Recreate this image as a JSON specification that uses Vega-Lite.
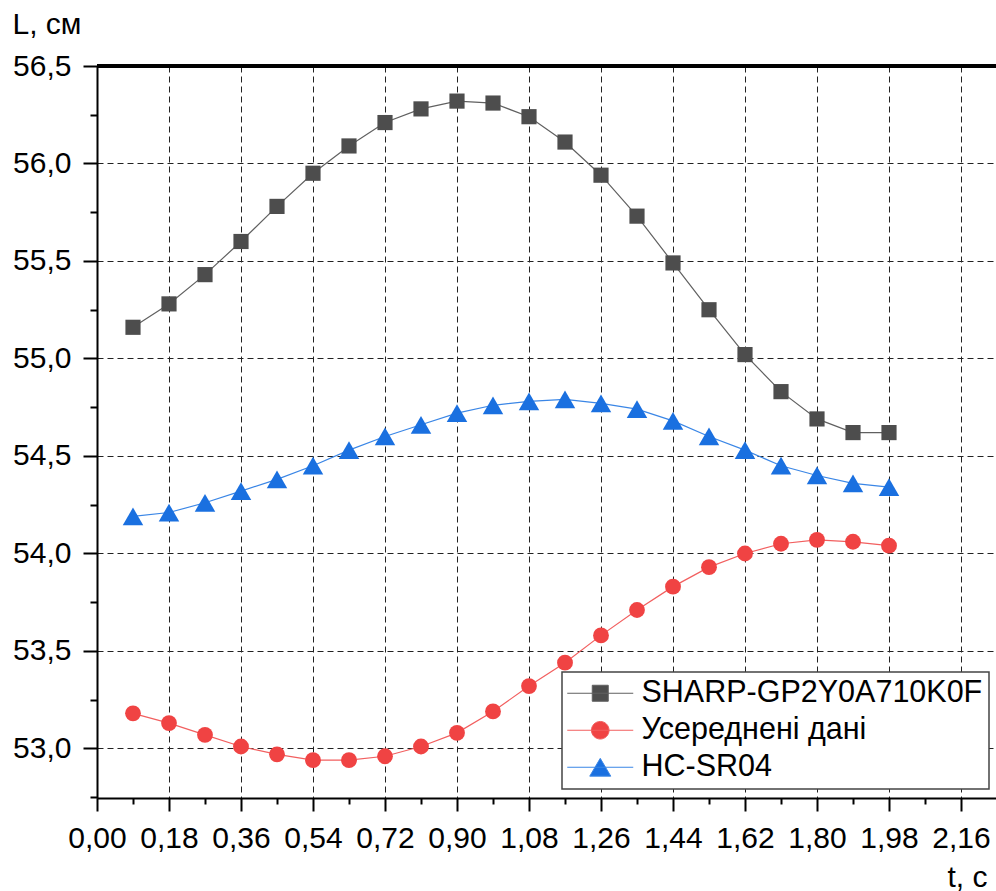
{
  "$schema": "https://vega.github.io/schema/vega-lite/v6.json",
  "width": 899,
  "height": 732,
  "autosize": "none",
  "padding": {"left": 97, "top": 66, "right": 0, "bottom": 93},
  "background": "white",
  "config": {"font": "Liberation Sans", "view": {"stroke": null}},
  "data": {"values": [
    {"t": 0.09, "L": 55.16, "s": "SHARP-GP2Y0A710K0F"},
    {"t": 0.18, "L": 55.28, "s": "SHARP-GP2Y0A710K0F"},
    {"t": 0.27, "L": 55.43, "s": "SHARP-GP2Y0A710K0F"},
    {"t": 0.36, "L": 55.60, "s": "SHARP-GP2Y0A710K0F"},
    {"t": 0.45, "L": 55.78, "s": "SHARP-GP2Y0A710K0F"},
    {"t": 0.54, "L": 55.95, "s": "SHARP-GP2Y0A710K0F"},
    {"t": 0.63, "L": 56.09, "s": "SHARP-GP2Y0A710K0F"},
    {"t": 0.72, "L": 56.21, "s": "SHARP-GP2Y0A710K0F"},
    {"t": 0.81, "L": 56.28, "s": "SHARP-GP2Y0A710K0F"},
    {"t": 0.90, "L": 56.32, "s": "SHARP-GP2Y0A710K0F"},
    {"t": 0.99, "L": 56.31, "s": "SHARP-GP2Y0A710K0F"},
    {"t": 1.08, "L": 56.24, "s": "SHARP-GP2Y0A710K0F"},
    {"t": 1.17, "L": 56.11, "s": "SHARP-GP2Y0A710K0F"},
    {"t": 1.26, "L": 55.94, "s": "SHARP-GP2Y0A710K0F"},
    {"t": 1.35, "L": 55.73, "s": "SHARP-GP2Y0A710K0F"},
    {"t": 1.44, "L": 55.49, "s": "SHARP-GP2Y0A710K0F"},
    {"t": 1.53, "L": 55.25, "s": "SHARP-GP2Y0A710K0F"},
    {"t": 1.62, "L": 55.02, "s": "SHARP-GP2Y0A710K0F"},
    {"t": 1.71, "L": 54.83, "s": "SHARP-GP2Y0A710K0F"},
    {"t": 1.80, "L": 54.69, "s": "SHARP-GP2Y0A710K0F"},
    {"t": 1.89, "L": 54.62, "s": "SHARP-GP2Y0A710K0F"},
    {"t": 1.98, "L": 54.62, "s": "SHARP-GP2Y0A710K0F"},
    {"t": 0.09, "L": 53.18, "s": "Усереднені дані"},
    {"t": 0.18, "L": 53.13, "s": "Усереднені дані"},
    {"t": 0.27, "L": 53.07, "s": "Усереднені дані"},
    {"t": 0.36, "L": 53.01, "s": "Усереднені дані"},
    {"t": 0.45, "L": 52.97, "s": "Усереднені дані"},
    {"t": 0.54, "L": 52.94, "s": "Усереднені дані"},
    {"t": 0.63, "L": 52.94, "s": "Усереднені дані"},
    {"t": 0.72, "L": 52.96, "s": "Усереднені дані"},
    {"t": 0.81, "L": 53.01, "s": "Усереднені дані"},
    {"t": 0.90, "L": 53.08, "s": "Усереднені дані"},
    {"t": 0.99, "L": 53.19, "s": "Усереднені дані"},
    {"t": 1.08, "L": 53.32, "s": "Усереднені дані"},
    {"t": 1.17, "L": 53.44, "s": "Усереднені дані"},
    {"t": 1.26, "L": 53.58, "s": "Усереднені дані"},
    {"t": 1.35, "L": 53.71, "s": "Усереднені дані"},
    {"t": 1.44, "L": 53.83, "s": "Усереднені дані"},
    {"t": 1.53, "L": 53.93, "s": "Усереднені дані"},
    {"t": 1.62, "L": 54.00, "s": "Усереднені дані"},
    {"t": 1.71, "L": 54.05, "s": "Усереднені дані"},
    {"t": 1.80, "L": 54.07, "s": "Усереднені дані"},
    {"t": 1.89, "L": 54.06, "s": "Усереднені дані"},
    {"t": 1.98, "L": 54.04, "s": "Усереднені дані"},
    {"t": 0.09, "L": 54.19, "s": "HC-SR04"},
    {"t": 0.18, "L": 54.21, "s": "HC-SR04"},
    {"t": 0.27, "L": 54.26, "s": "HC-SR04"},
    {"t": 0.36, "L": 54.32, "s": "HC-SR04"},
    {"t": 0.45, "L": 54.38, "s": "HC-SR04"},
    {"t": 0.54, "L": 54.45, "s": "HC-SR04"},
    {"t": 0.63, "L": 54.53, "s": "HC-SR04"},
    {"t": 0.72, "L": 54.60, "s": "HC-SR04"},
    {"t": 0.81, "L": 54.66, "s": "HC-SR04"},
    {"t": 0.90, "L": 54.72, "s": "HC-SR04"},
    {"t": 0.99, "L": 54.76, "s": "HC-SR04"},
    {"t": 1.08, "L": 54.78, "s": "HC-SR04"},
    {"t": 1.17, "L": 54.79, "s": "HC-SR04"},
    {"t": 1.26, "L": 54.77, "s": "HC-SR04"},
    {"t": 1.35, "L": 54.74, "s": "HC-SR04"},
    {"t": 1.44, "L": 54.68, "s": "HC-SR04"},
    {"t": 1.53, "L": 54.60, "s": "HC-SR04"},
    {"t": 1.62, "L": 54.53, "s": "HC-SR04"},
    {"t": 1.71, "L": 54.45, "s": "HC-SR04"},
    {"t": 1.80, "L": 54.40, "s": "HC-SR04"},
    {"t": 1.89, "L": 54.36, "s": "HC-SR04"},
    {"t": 1.98, "L": 54.34, "s": "HC-SR04"}
  ]},
  "encoding": {
    "x": {
      "field": "t", "type": "quantitative",
      "scale": {"domain": [0, 2.2475], "nice": false, "zero": false},
      "axis": {
        "title": "t, с", "titleFontSize": 30, "titleFontWeight": "normal", "titleColor": "black",
        "titleAlign": "right", "titleAnchor": null, "titleX": 890, "titleY": 88, "titleBaseline": "alphabetic",
        "values": [0, 0.09, 0.18, 0.27, 0.36, 0.45, 0.54, 0.63, 0.72, 0.81, 0.9, 0.99, 1.08, 1.17, 1.26, 1.35, 1.44, 1.53, 1.62, 1.71, 1.8, 1.89, 1.98, 2.07, 2.16],
        "labelExpr": "round(datum.value*100/9)%2==1 ? '' : replace(format(datum.value,'.2f'),'.',',')",
        "labelFontSize": 30, "labelColor": "black", "labelPadding": 12, "labelFlush": false, "labelOverlap": false,
        "tickSize": {"condition": {"test": "round(datum.value*100/9)%2==1", "value": 6}, "value": 13},
        "tickWidth": 2, "tickColor": "black",
        "domainColor": "black", "domainWidth": 2,
        "grid": true, "gridColor": "#222222", "gridDash": [6, 4], "gridWidth": 1,
        "gridOpacity": {"condition": {"test": "round(datum.value*100/9)%2==1", "value": 0}, "value": 1}
      }
    },
    "y": {
      "field": "L", "type": "quantitative",
      "scale": {"domain": [52.746, 56.5], "nice": false, "zero": false},
      "axis": {
        "title": "L, см", "titleFontSize": 30, "titleFontWeight": "normal", "titleColor": "black",
        "titleAngle": 0, "titleAlign": "left", "titleAnchor": null, "titleX": -85, "titleY": -33, "titleBaseline": "alphabetic",
        "values": [52.75, 53, 53.25, 53.5, 53.75, 54, 54.25, 54.5, 54.75, 55, 55.25, 55.5, 55.75, 56, 56.25, 56.5],
        "labelExpr": "round(datum.value*4)%2==1 ? '' : replace(format(datum.value,'.1f'),'.',',')",
        "labelFontSize": 30, "labelColor": "black", "labelPadding": 12, "labelFlush": false, "labelOverlap": false,
        "tickSize": {"condition": {"test": "round(datum.value*4)%2==1", "value": 7}, "value": 14},
        "tickWidth": 2, "tickColor": "black",
        "domainColor": "black", "domainWidth": 2,
        "grid": true, "gridColor": "#222222", "gridDash": [6, 4], "gridWidth": 1,
        "gridOpacity": {"condition": {"test": "round(datum.value*4)%2==1", "value": 0}, "value": 1}
      }
    }
  },
  "layer": [
    {
      "mark": {"type": "line", "strokeWidth": 1.2},
      "encoding": {
        "stroke": {
          "field": "s", "type": "nominal",
          "scale": {"domain": ["SHARP-GP2Y0A710K0F", "Усереднені дані", "HC-SR04"], "range": ["#606060", "#f25f5f", "#3a86e6"]},
          "legend": {
            "title": null, "orient": "none", "legendX": 465, "legendY": 606,
            "labelFontSize": 30.5, "labelColor": "black", "labelFont": "Liberation Sans", "labelLimit": 500,
            "symbolSize": 400, "symbolStrokeWidth": 1, "symbolType": "M-1.6,0H5",
            "padding": 6, "rowPadding": 6, "labelOffset": 43,
            "strokeColor": "#444444", "fillColor": "white",
            "encode": {
              "legend": {"update": {"strokeWidth": {"value": 1.5}}},
              "symbols": {"update": {
                "shape": {"signal": "datum.value=='SHARP-GP2Y0A710K0F' ? 'M-1.6,0H5M0.9,-0.8H2.5V0.8H0.9Z' : datum.value=='HC-SR04' ? 'M-1.6,0H5M1.7,-0.89L2.75,0.89L0.65,0.89Z' : 'M-1.6,0H5M2.58,0A0.88,0.88,0,1,1,0.82,0A0.88,0.88,0,1,1,2.58,0Z'"},
                "fill": {"signal": "datum.value=='SHARP-GP2Y0A710K0F' ? '#4d4d4d' : datum.value=='HC-SR04' ? '#1a70e0' : '#f04343'"},
                "stroke": {"signal": "datum.value=='SHARP-GP2Y0A710K0F' ? '#606060' : datum.value=='HC-SR04' ? '#3a86e6' : '#f25f5f'"},
                "strokeWidth": {"value": 1},
                "opacity": {"value": 1}
              }}
            }
          }
        }
      }
    },
    {
      "transform": [{"filter": "datum.s=='SHARP-GP2Y0A710K0F'"}],
      "mark": {"type": "point", "filled": true, "opacity": 1, "shape": "square", "size": 230, "color": "#4d4d4d"}
    },
    {
      "transform": [{"filter": "datum.s=='Усереднені дані'"}],
      "mark": {"type": "point", "filled": true, "opacity": 1, "shape": "circle", "size": 250, "color": "#f04343"}
    },
    {
      "transform": [{"filter": "datum.s=='HC-SR04'"}],
      "mark": {"type": "point", "filled": true, "opacity": 1, "shape": "triangle-up", "size": 420, "color": "#1a70e0"}
    },
    {
      "mark": {"type": "rule", "color": "black", "strokeWidth": 2.5},
      "encoding": {"x": null, "y": {"datum": 56.5, "type": "quantitative"}}
    }
  ]
}
